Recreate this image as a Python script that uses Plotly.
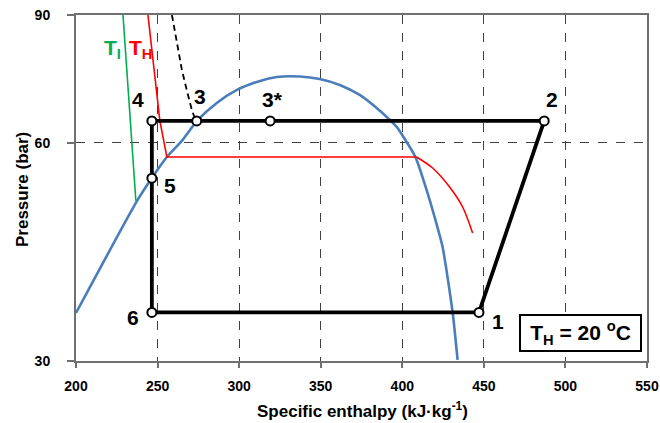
import plotly.graph_objects as go
import math

# Saturation dome (blue)
dome_h = [200.0, 237.4, 246.5, 255.7, 264.3, 274.7, 286.3, 298.6, 310.8, 323.1,
          337.2, 349.4, 361.7, 373.9, 384.3, 390.5, 396.6, 401.5, 406.4, 408.8,
          414.9, 419.8, 424.7, 430.9, 433.9]
dome_p = [34.94, 49.87, 53.64, 57.34, 60.14, 64.49, 68.07, 70.94, 72.77, 73.93,
          74.05, 73.46, 72.08, 69.82, 67.00, 65.11, 63.08, 60.72, 58.26, 56.80,
          51.64, 47.39, 43.09, 34.94, 30.10]

# T_H isotherm (red)
th_upper_h = [244.1, 251.4, 255.7, 408.8]
th_upper_p = [90, 64.29, 57.34, 57.34]
th_curve_h = [408.8, 418.6, 429.0, 437.0, 443.1]
th_curve_p = [57.34, 55.37, 52.13, 48.92, 45.05]

# T_I isotherm (green)
ti_h = [228.8, 236.7]
ti_p = [90, 49.9]

# dashed line
dash_h = [258.8, 261.8, 264.9, 267.9, 271.0, 272.8]
dash_p = [90, 83.1, 75.6, 70.9, 66.6, 64.9]

# Cycle
cyc_h = [447, 487, 246.5, 246.5, 447]
cyc_p = [35, 64.3, 64.3, 35, 35]

pt_names = ['1', '2', '3', '3*', '4', '5', '6']
pt_h = [447, 487, 274, 319, 246.5, 246.5, 246.5]
pt_p = [35, 64.3, 64.3, 64.3, 64.3, 53.6, 35]
pt_shift = {'1': (19, -9), '2': (8, 21), '3': (3, 24), '3*': (2, 21),
            '4': (-14, 21), '5': (18, -7), '6': (-19, -5)}

xticks = [200, 250, 300, 350, 400, 450, 500, 550]
yticks = [30, 60, 90]

FONT = "Liberation Sans, Arial, sans-serif"
PW, PH, L, T = 571, 346, 76, 15


def px(xp):
    return (xp - L) / PW


def py(yp):
    return (T + PH - yp) / PH


fig = go.Figure()
fig.add_trace(go.Scatter(x=dome_h, y=dome_p, mode='lines',
                         line=dict(color='#4A7EBB', width=2.6, shape='spline', smoothing=0.6)))
fig.add_trace(go.Scatter(x=th_upper_h, y=th_upper_p, mode='lines',
                         line=dict(color='#FF0000', width=1.6)))
fig.add_trace(go.Scatter(x=th_curve_h, y=th_curve_p, mode='lines',
                         line=dict(color='#FF0000', width=1.6, shape='spline', smoothing=0.8)))
fig.add_trace(go.Scatter(x=ti_h, y=ti_p, mode='lines',
                         line=dict(color='#00B050', width=1.6)))
fig.add_trace(go.Scatter(x=dash_h, y=dash_p, mode='lines',
                         line=dict(color='black', width=1.8, dash='6px,4px')))
fig.add_trace(go.Scatter(x=cyc_h, y=cyc_p, mode='lines',
                         line=dict(color='black', width=3.8)))
fig.add_trace(go.Scatter(x=pt_h, y=pt_p, mode='markers',
                         marker=dict(symbol='circle', size=9, color='white',
                                     line=dict(color='black', width=2))))

annotations = []
for n, h, p in zip(pt_names, pt_h, pt_p):
    dx, dy = pt_shift[n]
    annotations.append(dict(x=h, y=math.log10(p), xref='x', yref='y', text=n,
                            showarrow=False, xshift=dx, yshift=dy,
                            xanchor='center', yanchor='middle',
                            font=dict(family=FONT, size=21, color='black', weight='bold')))

annotations.append(dict(x=px(112), y=py(49), xref='paper', yref='paper',
                        text='T<sub>I</sub>', showarrow=False, xanchor='center', yanchor='middle',
                        font=dict(family=FONT, size=21, color='#00B050', weight='bold')))
annotations.append(dict(x=px(140), y=py(49), xref='paper', yref='paper',
                        text='T<sub>H</sub>', showarrow=False, xanchor='center', yanchor='middle',
                        font=dict(family=FONT, size=21, color='#FF0000', weight='bold')))

annotations.append(dict(x=px(580.5), y=py(333), xref='paper', yref='paper',
                        text='T<sub>H</sub> = 20 <sup>o</sup>C', showarrow=False,
                        xanchor='center', yanchor='middle',
                        width=115, height=30, borderpad=2, borderwidth=2, bordercolor='black',
                        bgcolor='white',
                        font=dict(family=FONT, size=21, color='black', weight='bold')))

annotations.append(dict(x=px(362), y=py(410), xref='paper', yref='paper',
                        text='Specific enthalpy (kJ·kg<sup>-1</sup>)', showarrow=False,
                        xanchor='center', yanchor='middle',
                        font=dict(family=FONT, size=17, color='black', weight='bold')))
annotations.append(dict(x=px(22), y=py(190), xref='paper', yref='paper',
                        text='Pressure (bar)', showarrow=False, textangle=-90,
                        xanchor='center', yanchor='middle',
                        font=dict(family=FONT, size=17, color='black', weight='bold')))

fig.update_layout(
    width=660, height=423,
    margin=dict(l=L, r=660 - L - PW, t=T, b=423 - T - PH, autoexpand=False),
    paper_bgcolor='white', plot_bgcolor='white',
    showlegend=False,
    annotations=annotations,
)
fig.update_xaxes(range=[200, 550], tickvals=xticks, ticktext=[str(v) for v in xticks],
                 automargin=False,
                 showgrid=True, gridcolor='#404040', gridwidth=1, griddash='dash',
                 showline=True, linecolor='#707070', linewidth=2, mirror=True,
                 ticks='outside', ticklen=5, tickcolor='#707070', tickwidth=1.5,
                 ticklabelstandoff=6,
                 tickfont=dict(family=FONT, size=14, color='black', weight='bold'),
                 zeroline=False)
fig.update_yaxes(type='log', range=[math.log10(30), math.log10(90)], tickvals=yticks,
                 ticktext=[str(v) for v in yticks],
                 automargin=False,
                 showgrid=True, gridcolor='#404040', gridwidth=1, griddash='dash',
                 showline=True, linecolor='#707070', linewidth=2, mirror=True,
                 ticks='outside', ticklen=7, tickcolor='#707070', tickwidth=1.5,
                 ticklabelstandoff=14,
                 tickfont=dict(family=FONT, size=14, color='black', weight='bold'),
                 zeroline=False)

fig.write_html("out.html")
